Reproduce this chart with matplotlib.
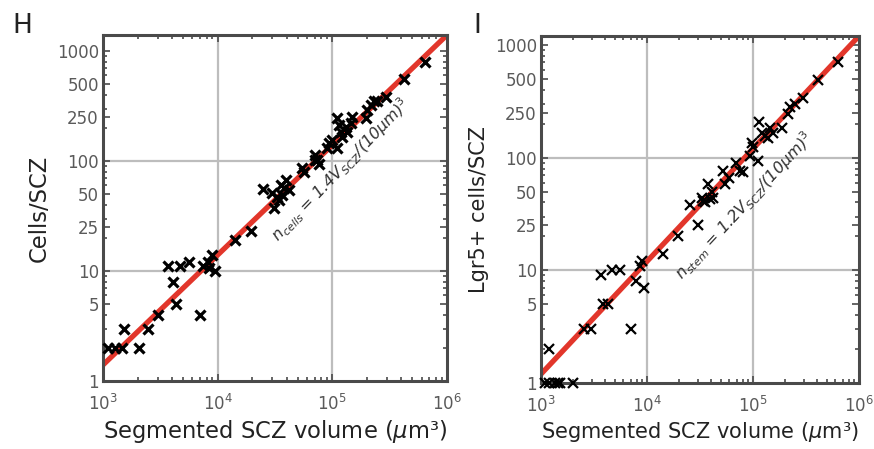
import numpy as np
import matplotlib
matplotlib.use("Agg")
import matplotlib.pyplot as plt
from matplotlib.ticker import LogLocator, FixedLocator, FixedFormatter

# Panel H: segmented SCZ volume (um^3) vs cells per SCZ
vol_h = [1.1e3, 1.27e3, 1.46e3, 2.06e3, 1.52e3, 2.47e3, 3.0e3, 4.3e3, 6.97e3, 4.06e3,
         3.68e3, 4.67e3, 5.6e3, 7.5e3, 8.2e3, 8.9e3, 9.4e3, 8.4e3,
         14.3e3, 19.4e3, 25e3, 31e3, 30e3, 33e3, 36.6e3, 39.7e3, 42e3, 36e3, 34e3, 38e3,
         53.9e3, 57e3, 71e3, 74e3, 77e3, 70e3, 94e3, 90e3, 100e3, 110e3, 115e3, 120e3,
         110e3, 122e3, 132e3, 135e3, 146e3, 149e3, 197e3, 219e3, 232e3, 245e3, 295e3,
         420e3, 640e3, 202e3]
cells_h = [2, 2, 2, 2, 3, 3, 4, 5, 4, 8,
           11, 11, 12, 11, 12, 14, 10, 10.6,
           19, 23, 56, 37.5, 51, 47, 49, 67, 54, 60, 44, 57,
           86, 79, 113, 102, 94, 102, 146, 131, 155, 245, 211, 184,
           131, 165, 204, 184, 220, 250, 245, 323, 350, 350, 380,
           555, 790, 290]

# Panel I: segmented SCZ volume (um^3) vs Lgr5+ cells per SCZ
vol_i = [1.09e3, 1.2e3, 1.35e3, 1.45e3, 1.5e3, 2.0e3, 1.2e3, 2.55e3, 2.96e3, 3.85e3,
         4.3e3, 7.07e3, 3.68e3, 4.67e3, 5.56e3, 7.9e3, 8.6e3, 9.0e3, 9.4e3,
         14.1e3, 19.6e3, 30.3e3, 25.4e3, 33e3, 35e3, 39e3, 34e3, 42e3, 37.6e3, 41e3,
         52e3, 55e3, 60e3, 69e3, 75e3, 80e3, 98e3, 100e3, 93e3, 111e3, 113e3, 121e3,
         130e3, 145e3, 138e3, 154e3, 188e3, 214e3, 224e3, 250e3, 295e3, 410e3, 640e3]
cells_i = [1, 1, 1, 1, 1, 1, 2, 3, 3, 5,
           5, 3, 9, 10, 10, 8, 11, 12, 7,
           14, 20, 25, 38, 44, 40, 43, 41, 44, 58, 50,
           76, 58, 66, 90, 76, 75, 136, 123, 104, 94, 205, 167,
           157, 185, 150, 167, 185, 245, 280, 302, 335, 488, 700]

# fitted prefactors: n = k * V / (10 um)^3
fit_h = 1.4
fit_i = 1.2

ytick_vals = [1, 5, 10, 25, 50, 100, 250, 500, 1000]
ytick_labels = ['1', '5', '10', '25', '50', '100', '250', '500', '1000']

frame_col = '#4a4a4a'
tick_col = '#5a5a5a'
red = '#e2362b'

fig = plt.figure(figsize=(8.74, 4.49), dpi=100)
ax_h = fig.add_axes([103/874, 68/449, 344/874, 346/449])
ax_i = fig.add_axes([541/874, 66/449, 318/874, 347/449])


def style_axis(ax, vol, cells, k, ymax, ylabel, mew, label_fs):
    ax.set_xscale('log')
    ax.set_yscale('log')
    ax.set_xlim(1e3, 1e6)
    ax.set_ylim(1, ymax)

    # grid only on interior decades
    for gx in [1e4, 1e5]:
        ax.axvline(gx, color='#bdbdbd', lw=1.6, zorder=0)
    for gy in [10, 100]:
        ax.axhline(gy, color='#bdbdbd', lw=1.6, zorder=0)

    vfit = np.array([1e3, 1e6])
    ax.plot(vfit, k * vfit / 1e3, color=red, lw=3.8, zorder=2, solid_capstyle='butt')
    ax.plot(vol, cells, 'x', color='black', ms=7.5, mew=mew, zorder=3, clip_on=False)

    ax.yaxis.set_major_locator(FixedLocator(ytick_vals))
    ax.yaxis.set_major_formatter(FixedFormatter(ytick_labels))
    ax.yaxis.set_minor_locator(LogLocator(base=10, subs=np.arange(2, 10), numticks=20))
    ax.xaxis.set_major_locator(LogLocator(base=10, numticks=10))
    ax.xaxis.set_minor_locator(LogLocator(base=10, subs=np.arange(2, 10), numticks=20))

    ax.tick_params(which='both', direction='in', top=True, right=True,
                   color=frame_col, width=1.2)
    ax.tick_params(which='major', length=5, labelsize=12, labelcolor=tick_col)
    ax.tick_params(axis='x', which='major', pad=9)
    ax.tick_params(axis='y', which='major', pad=3)
    ax.tick_params(which='minor', length=3, labelleft=False, labelbottom=False)
    for sp in ax.spines.values():
        sp.set_color(frame_col)
        sp.set_linewidth(2.2)

    ax.set_xlabel('Segmented SCZ volume ($\\mu$m³)', fontsize=label_fs, color='#222222', labelpad=3)
    ax.set_ylabel(ylabel, fontsize=label_fs, color='#222222', labelpad=4)


style_axis(ax_h, vol_h, cells_h, fit_h, 1400, 'Cells/SCZ', 2.3, 16.3)
style_axis(ax_i, vol_i, cells_i, fit_i, 1200, 'Lgr5+ cells/SCZ', 1.6, 15)

ax_h.text(0.69, 0.61, r'$n_{cells}$ = 1.4$V_{SCZ}$/(10$\mu$m)$^3$', transform=ax_h.transAxes,
          rotation=46, ha='center', va='center', fontsize=11.5, style='italic', color='#333333')
ax_i.text(0.64, 0.51, r'$n_{stem}$ = 1.2$V_{SCZ}$/(10$\mu$m)$^3$', transform=ax_i.transAxes,
          rotation=47, ha='center', va='center', fontsize=11.5, style='italic', color='#333333')

fig.text(12/874, 1 - 33/449, 'H', fontsize=19, color='#222222')
fig.text(473/874, 1 - 33/449, 'I', fontsize=19, color='#222222')

fig.savefig('out.png', dpi=100)
